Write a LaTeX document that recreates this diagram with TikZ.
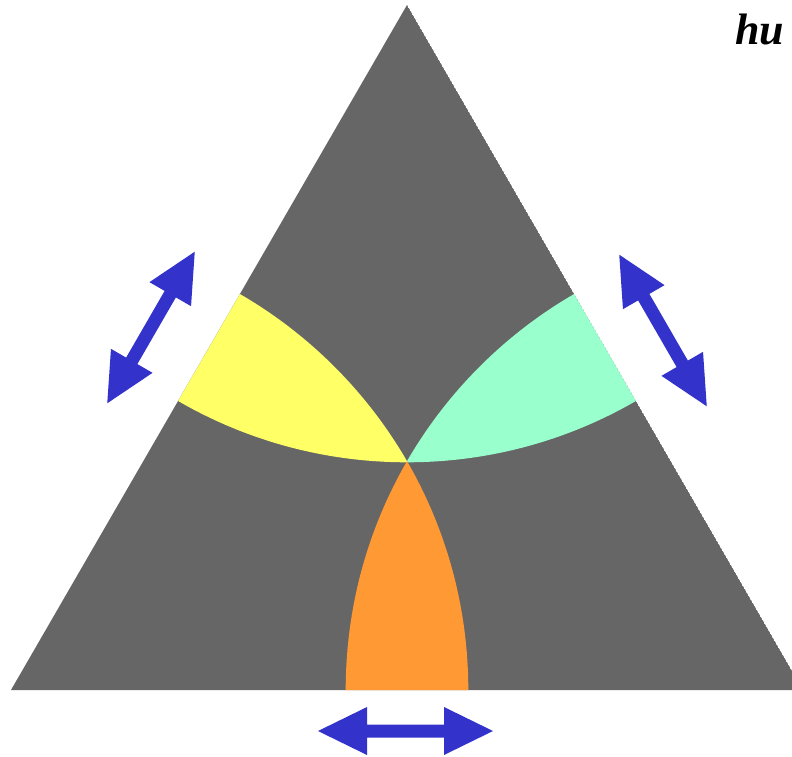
\documentclass[tikz,border=0pt]{standalone}
\usepackage{fontspec}
\setmainfont{Liberation Serif}
\definecolor{tri}{HTML}{666666}
\definecolor{yel}{HTML}{FFFF66}
\definecolor{aqua}{HTML}{99FFCC}
\definecolor{orng}{HTML}{FF9933}
\definecolor{arrowblue}{HTML}{3333CC}
\tikzset{
  dblarrow/.pic={\fill[arrowblue] (-87.5,0)--(-38.5,24)--(-38.5,6.5)--(38.5,6.5)--(38.5,24)--(87.5,0)--(38.5,-24)--(38.5,-6.5)--(-38.5,-6.5)--(-38.5,-24)--cycle;},
  titletext/.style={font=\bfseries\itshape\fontsize{44}{44}\selectfont, inner sep=0pt, anchor=base west}
}
\begin{document}
\begin{tikzpicture}[x=1pt,y=-1pt]
\useasboundingbox (0,0) rectangle (792,757);
\coordinate (A) at (407,5);
\coordinate (B) at (11,690);
\coordinate (C) at (803,690);
\begin{scope}
  \clip (A)--(B)--(C)--cycle;
  \fill[tri] (A)--(B)--(C)--cycle;
  \begin{scope}
    \clip (A) circle[radius=457.3pt];
    \fill[yel] (B) circle[radius=457.3pt];
    \fill[aqua] (C) circle[radius=457.3pt];
  \end{scope}
  \begin{scope}
    \clip (B) circle[radius=457.3pt];
    \fill[orng] (C) circle[radius=457.3pt];
  \end{scope}
\end{scope}
\pic[rotate=60] at (151,327.5) {dblarrow};
\pic[rotate=-60] at (663,330.5) {dblarrow};
\pic at (405.5,731) {dblarrow};
\node[titletext] (title) at (735,45) {hu};
\end{tikzpicture}
\end{document}
